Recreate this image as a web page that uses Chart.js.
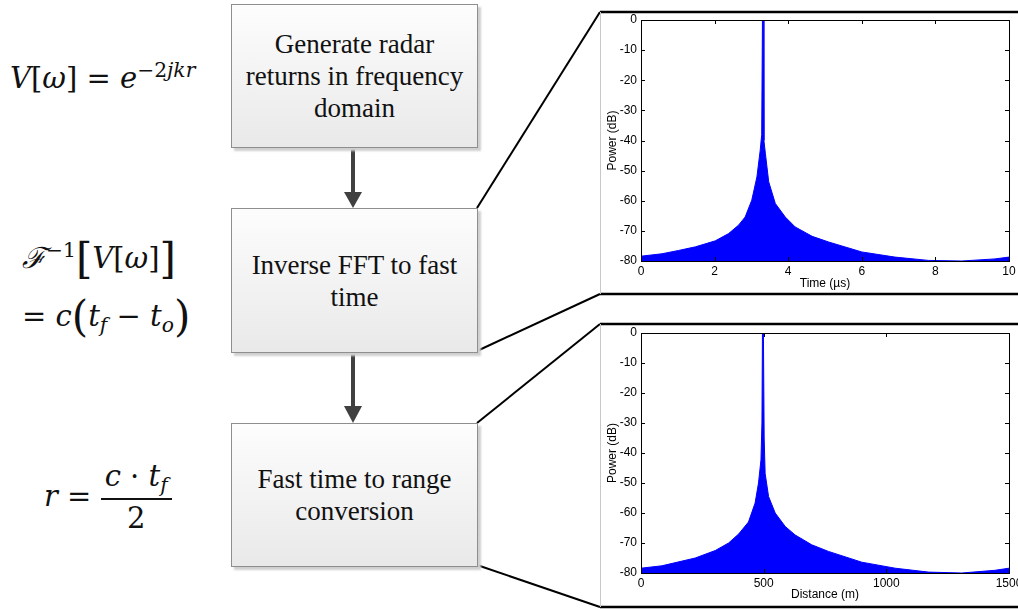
<!DOCTYPE html>
<html>
<head>
<meta charset="utf-8">
<script src="https://cdn.jsdelivr.net/npm/chart.js@4/dist/chart.umd.min.js"></script>
<style>
  html, body { margin: 0; padding: 0; background: #fff; }
  #page { position: relative; width: 1018px; height: 611px; overflow: hidden; }
  .box {
    position: absolute; left: 231px; width: 245px;
    border: 1px solid #8e8e8e;
    background: linear-gradient(#fdfdfd, #e9e9e9);
    box-shadow: 3px 3px 2px #cfcfcf;
    display: flex; align-items: center; justify-content: center; text-align: center;
    font-family: "Liberation Serif", "Times New Roman", serif;
    font-size: 27px; line-height: 32px; color: #111;
  }
  .math { position: absolute; font-family: "DejaVu Serif", serif; font-size: 29px; color: #111; white-space: nowrap; line-height: 1; }
  .math i { font-style: italic; }
  .sup { font-size: 0.7em; vertical-align: 0.55em; }
  .sub { font-size: 0.7em; vertical-align: -0.3em; }
  .big { font-size: 1.45em; vertical-align: -0.12em; font-style: normal; }
  .frac { display: inline-flex; flex-direction: column; align-items: center; vertical-align: middle; }
  .frac .num { padding: 0 4px 3px; border-bottom: 2px solid #111; }
  .frac .den { padding-top: 4px; }
  .plot { position: absolute; left: 601px; width: 417px; }
  svg { position: absolute; left: 0; top: 0; }
</style>
</head>
<body>
<div id="page">
  <svg width="1018" height="611">
    <!-- callout lines -->
    <line x1="477" y1="208" x2="600" y2="12" stroke="#000" stroke-width="2"/>
    <line x1="477" y1="351" x2="600" y2="294" stroke="#000" stroke-width="2"/>
    <line x1="477" y1="423" x2="600" y2="324" stroke="#000" stroke-width="2"/>
    <line x1="477" y1="565" x2="600" y2="607" stroke="#000" stroke-width="2"/>
    <!-- chart frames -->
    <line x1="600" y1="12" x2="1018" y2="12" stroke="#000" stroke-width="2.5"/>
    <line x1="600" y1="294" x2="1018" y2="294" stroke="#000" stroke-width="2.5"/>
    <line x1="600.5" y1="12" x2="600.5" y2="294" stroke="#c8c8c8" stroke-width="1"/>
    <line x1="600" y1="324" x2="1018" y2="324" stroke="#000" stroke-width="2.5"/>
    <line x1="600" y1="607" x2="1018" y2="607" stroke="#000" stroke-width="2.5"/>
    <line x1="600.5" y1="324" x2="600.5" y2="607" stroke="#c8c8c8" stroke-width="1"/>
    <!-- arrows -->
    <rect x="351" y="147" width="4" height="47" fill="#404040"/>
    <polygon points="344,192 362,192 353,208" fill="#404040"/>
    <rect x="351" y="352" width="4" height="56" fill="#404040"/>
    <polygon points="344,406 362,406 353,423" fill="#404040"/>
  </svg>

  <div class="box" style="top:4px;height:142px;">Generate radar<br>returns in frequency<br>domain</div>
  <div class="box" style="top:208px;height:143px;">Inverse FFT to fast<br>time</div>
  <div class="box" style="top:423px;height:142px;">Fast time to range<br>conversion</div>

  <div class="math" style="left:10px;top:60px;"><i>V</i>[<i>ω</i>] = <i>e</i><span class="sup">−2<i>jkr</i></span></div>
  <div class="math" style="left:22px;top:238px;"><i>ℱ</i><span class="sup">−1</span><span class="big">[</span><i>V</i>[<i>ω</i>]<span class="big">]</span></div>
  <div class="math" style="left:22px;top:296px;">= <i>c</i><span class="big">(</span><i>t</i><span class="sub"><i>f</i></span> − <i>t</i><span class="sub"><i>o</i></span><span class="big">)</span></div>
  <div class="math" style="left:44px;top:462px;"><i>r</i> = <span class="frac"><span class="num"><i>c</i> · <i>t</i><span class="sub"><i>f</i></span></span><span class="den">2</span></span></div>

  <div class="plot" style="top:14px;height:280px;"><canvas id="timeChart" width="417" height="280"></canvas></div>
  <div class="plot" style="top:326px;height:279px;"><canvas id="rangeChart" width="417" height="279"></canvas></div>
</div>

<script>
// Upper envelope of the dense return, fast-time view (µs, dB)
const timeUs = [0, 0.57, 1.02, 1.48, 2.02, 2.38, 2.65, 2.83, 3.01, 3.15, 3.24, 3.28, 3.30, 3.32, 3.34, 3.38, 3.47, 3.65, 3.92, 4.19, 4.65, 5.1, 6.0, 6.9, 7.81, 8.72, 9.62, 10];
const timePowerDb = [-78.4, -77.6, -76.5, -75.3, -73.3, -70.9, -68.1, -65.4, -59.8, -52.1, -43.2, -38, 0, 0, -40, -44.3, -53.7, -60.9, -65.4, -68.7, -71.8, -73.7, -77.0, -78.7, -79.8, -80, -79.3, -78.7];

// Same return after range conversion (m, dB)
const distanceM = [0, 85, 221, 303, 357, 398, 438, 465, 479, 489, 493, 495, 499, 502, 506, 520, 547, 588, 628, 696, 764, 900, 1036, 1172, 1307, 1443, 1500];
const rangePowerDb = [-78.4, -77.6, -75, -72.5, -70, -67, -63, -56.7, -50, -42.3, -30, 0, 0, -35, -46.8, -54.5, -60, -64.5, -67.3, -70.6, -72.8, -76.4, -78.4, -79.7, -80, -79.1, -78.4];

const powerTicks = { min: -80, max: 0, step: 10 };

const tickFont = { family: '"Liberation Sans", Arial, sans-serif', size: 12 };

// MATLAB style box with inward tick marks
const matlabBox = {
    id: 'matlabBox',
    afterDatasetsDraw(chart) {
        const { ctx, chartArea: a, scales } = chart;
        const len = 4;
        ctx.save();
        ctx.strokeStyle = '#000';
        ctx.lineWidth = 1;
        ctx.beginPath();
        scales.x.ticks.forEach(t => {
            const px = Math.round(scales.x.getPixelForValue(t.value)) + 0.5;
            ctx.moveTo(px, a.bottom); ctx.lineTo(px, a.bottom - len);
            ctx.moveTo(px, a.top); ctx.lineTo(px, a.top + len);
        });
        scales.y.ticks.forEach(t => {
            const py = Math.round(scales.y.getPixelForValue(t.value)) + 0.5;
            ctx.moveTo(a.left, py); ctx.lineTo(a.left + len, py);
            ctx.moveTo(a.right, py); ctx.lineTo(a.right - len, py);
        });
        ctx.stroke();
        ctx.strokeRect(Math.round(a.left) + 0.5, Math.round(a.top) + 0.5,
            Math.round(a.right - a.left), Math.round(a.bottom - a.top));
        ctx.restore();
    }
};

function makeChart(id, xs, ys, xMax, xStep, xTitle, padTop, xHeight) {
    const points = xs.map((x, i) => ({ x: x, y: ys[i] }));
    return new Chart(document.getElementById(id), {
        type: 'line',
        data: {
            datasets: [{
                data: points,
                borderColor: '#0000ff',
                backgroundColor: '#0000ff',
                borderWidth: 1,
                pointRadius: 0,
                fill: 'start',
                tension: 0
            }]
        },
        options: {
            responsive: false,
            animation: false,
            events: [],
            layout: { padding: { top: padTop, right: 9, left: 0, bottom: 0 } },
            plugins: { legend: { display: false }, tooltip: { enabled: false } },
            scales: {
                x: {
                    type: 'linear',
                    min: 0, max: xMax,
                    grid: { display: false, drawTicks: false },
                    border: { display: false },
                    ticks: { stepSize: xStep, color: '#000', font: tickFont, padding: 3, maxRotation: 0,
                             callback: v => String(v) },
                    title: { display: true, text: xTitle, color: '#000', font: tickFont, padding: { top: 0, bottom: 3 } },
                    afterFit(s) { s.height = xHeight; s.paddingLeft = 0; s.paddingRight = 0; }
                },
                y: {
                    min: powerTicks.min, max: powerTicks.max,
                    grid: { display: false, drawTicks: false },
                    border: { display: false },
                    ticks: { stepSize: powerTicks.step, color: '#000', font: tickFont, padding: 4,
                             callback: v => String(v) },
                    title: { display: true, text: 'Power (dB)', color: '#000', font: tickFont, padding: { top: 4, bottom: 0 } },
                    afterFit(s) { s.width = 40; s.paddingTop = 0; s.paddingBottom = 0; }
                }
            }
        },
        plugins: [matlabBox]
    });
}

makeChart('timeChart', timeUs, timePowerDb, 10, 2, 'Time (\u00b5s)', 6, 33);
makeChart('rangeChart', distanceM, rangePowerDb, 1500, 500, 'Distance (m)', 7, 32);
</script>
</body>
</html>
